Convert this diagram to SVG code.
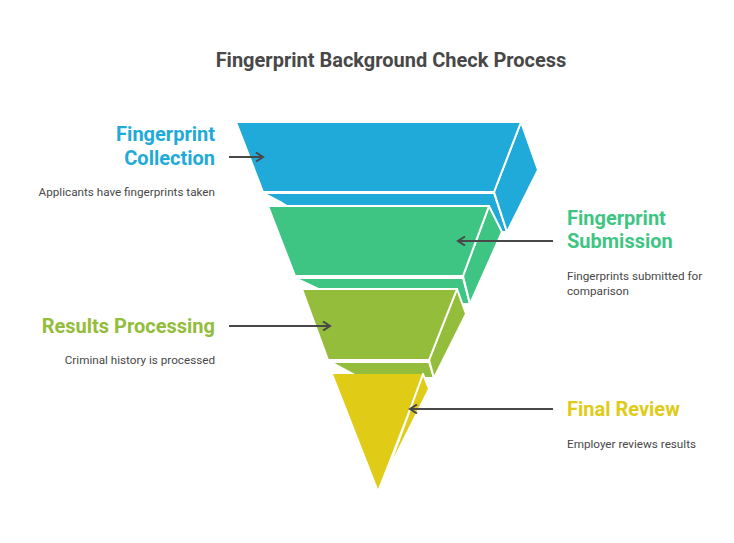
<svg xmlns="http://www.w3.org/2000/svg" width="734" height="543" viewBox="0 0 734 543">
<style>
.t{font-family:Roboto,"Liberation Sans",sans-serif;}
.title{font-size:20px;font-weight:700;fill:#484848;}
.h{font-size:20px;font-weight:700;}
.d{font-size:11.7px;fill:#484848;}
.f{stroke:#fff;stroke-width:2;stroke-linejoin:round;}
.blue{fill:#20aad9;}
.green{fill:#3fc583;}
.olive{fill:#93bd3a;}
.yellow{fill:#e0cb17;}
.c{stroke:#484848;stroke-width:2;fill:none;}
</style>
<defs>
<marker id="ah" viewBox="0 0 10 10" refX="8" refY="5" markerWidth="10" markerHeight="10" markerUnits="userSpaceOnUse" orient="auto">
<path d="M1,0.5 L8,5 L1,9.5" fill="none" stroke="#484848" stroke-width="2"/>
</marker>
</defs>
<rect width="734" height="543" fill="#fff"/>
<text class="t title" x="391" y="67" text-anchor="middle">Fingerprint Background Check Process</text>

<g id="layer-collection">
<polygon class="f blue" points="263,193 494,193 507,232 330,232 282,203"/>
<polygon class="f blue" points="521,122 538,170 507,232 494,192"/>
<polygon class="f blue" points="236,122 521,122 494,192 263,192"/>
</g>
<g id="layer-submission">
<polygon class="f green" points="295,278 463,278 470,304 350,304 314,287"/>
<polygon class="f green" points="489,206 502,232 470,304 463,276"/>
<polygon class="f green" points="268,206 489,206 463,276 295,276"/>
</g>
<g id="layer-processing">
<polygon class="f olive" points="331,362 429,362 434,378 360,378 347,371"/>
<polygon class="f olive" points="457,289 466,314 434,378 429,360"/>
<polygon class="f olive" points="302,289 457,289 429,360 328,360"/>
</g>
<g id="layer-review">
<polygon class="f yellow" points="423,374 429,389 386,475 385,474"/>
<polygon class="yellow" points="333,374 423,374 378,489"/>
<line x1="423" y1="374" x2="387" y2="473" stroke="#fff" stroke-width="2"/>
</g>

<g id="label-collection">
<text class="t h" x="215" y="141" text-anchor="end" fill="#20aad9">Fingerprint</text>
<text class="t h" x="215" y="165" text-anchor="end" fill="#20aad9">Collection</text>
<text class="t d" x="215" y="196" text-anchor="end">Applicants have fingerprints taken</text>
</g>
<g id="label-submission">
<text class="t h" x="567" y="225" fill="#3fc583">Fingerprint</text>
<text class="t h" x="567" y="248" fill="#3fc583">Submission</text>
<text class="t d" x="567" y="280">Fingerprints submitted for</text>
<text class="t d" x="567" y="295">comparison</text>
</g>
<g id="label-processing">
<text class="t h" x="215" y="333" text-anchor="end" fill="#93bd3a">Results Processing</text>
<text class="t d" x="215" y="364" text-anchor="end">Criminal history is processed</text>
</g>
<g id="label-review">
<text class="t h" x="567" y="416" fill="#e0cb17">Final Review</text>
<text class="t d" x="567" y="448">Employer reviews results</text>
</g>

<g id="connectors">
<line class="c" x1="229" y1="157" x2="263" y2="157" marker-end="url(#ah)"/>
<line class="c" x1="553" y1="241" x2="458" y2="241" marker-end="url(#ah)"/>
<line class="c" x1="229" y1="326" x2="330" y2="326" marker-end="url(#ah)"/>
<line class="c" x1="553" y1="409" x2="410" y2="409" marker-end="url(#ah)"/>
</g>
</svg>
